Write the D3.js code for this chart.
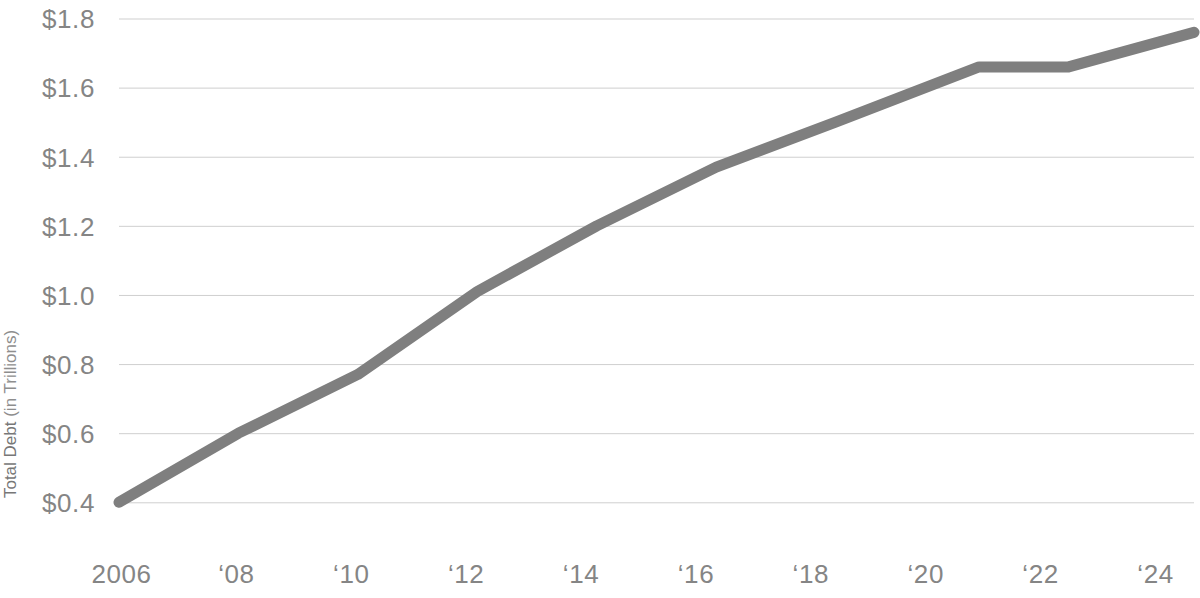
<!DOCTYPE html>
<html>
<head>
<meta charset="utf-8">
<script src="https://cdn.jsdelivr.net/npm/d3@7"></script>
<style>
  body { margin: 0; background: #fff; }
  svg { display: block; font-family: "Liberation Sans", Arial, sans-serif; }
</style>
</head>
<body>
<svg id="chart" width="1200" height="598"></svg>
<script>
// data
const years = [2006, 2008, 2010, 2012, 2014, 2016, 2018, 2020.4, 2021.9, 2024];
const debt = [0.40, 0.60, 0.77, 1.01, 1.20, 1.37, 1.50, 1.66, 1.66, 1.76];
const yTicks = [0.4, 0.6, 0.8, 1.0, 1.2, 1.4, 1.6, 1.8];
const xLabels = ['2006', '\u201808', '\u201810', '\u201812', '\u201814', '\u201816', '\u201818', '\u201820', '\u201822', '\u201824'];

const svg = d3.select('#chart');

const left = 119;
const right = 1194;

const x = d3.scaleLinear().domain([2006, 2024]).range([left, right]);
const y = d3.scaleLinear().domain([0.4, 1.8]).range([502.3, 18.5]);
// tick labels sit on their own evenly spaced positions
const xl = d3.scalePoint().domain(xLabels).range([121, 1155]);

// gridlines + y labels
const yAxis = svg.append('g')
  .attr('transform', `translate(${left},0)`)
  .call(d3.axisRight(y).tickValues(yTicks).tickSize(right - left).tickFormat(d => '$' + d.toFixed(1)));
yAxis.select('.domain').remove();
yAxis.selectAll('line').attr('stroke', '#cfcfcf').attr('stroke-width', 1);
yAxis.selectAll('text')
  .attr('x', -24)
  .attr('dy', '0.36em')
  .attr('text-anchor', 'end')
  .attr('fill', '#858585')
  .style('font-size', '26px')
  .style('letter-spacing', '0.6px');

// x labels
const xAxis = svg.append('g')
  .attr('transform', 'translate(0,560)')
  .call(d3.axisBottom(xl).tickSize(0));
xAxis.select('.domain').remove();
xAxis.selectAll('text')
  .attr('y', 23)
  .attr('dy', 0)
  .attr('fill', '#858585')
  .style('font-size', '26px')
  .style('letter-spacing', '0.6px');

// the line
const line = d3.line()
  .x((d, i) => x(years[i]))
  .y(d => y(d));

svg.append('path')
  .datum(debt)
  .attr('d', line)
  .attr('fill', 'none')
  .attr('stroke', '#7f7f7f')
  .attr('stroke-width', 11)
  .attr('stroke-linecap', 'round')
  .attr('stroke-linejoin', 'round');

// y title
const title = svg.append('text')
  .attr('transform', 'translate(16,414) rotate(-90)')
  .attr('text-anchor', 'middle')
  .style('font-size', '17px');
title.append('tspan').attr('fill', '#777').text('Total Debt ');
title.append('tspan').attr('fill', '#8e8e8e').text('(in Trillions)');
</script>
</body>
</html>
